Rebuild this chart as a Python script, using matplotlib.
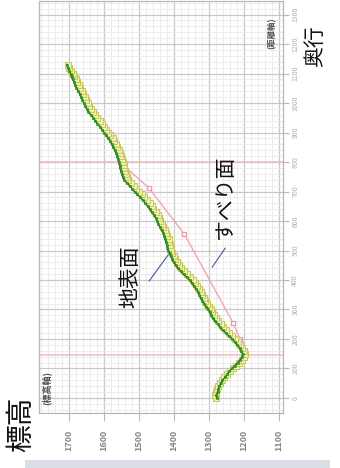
import matplotlib
matplotlib.use("Agg")
import matplotlib.pyplot as plt
from matplotlib.ticker import MultipleLocator
from matplotlib.patches import Rectangle

plt.rcParams['font.family'] = ['Noto Sans CJK JP', 'DejaVu Sans']

# Ground surface profile (current survey): distance along section (m), elevation (m)
ground_dist = [0, 10, 20, 30, 40, 50, 60, 70, 80, 90, 100, 110, 120, 130, 140, 150,
               160, 170, 180, 190, 200, 210, 220, 230, 240, 250, 260, 270, 280, 290,
               300, 310, 320, 330, 340, 350, 360, 370, 380, 390, 400, 410, 420, 430,
               440, 450, 460, 470, 480, 490, 500, 510, 520, 530, 540, 550, 560, 570,
               580, 590, 600, 610, 620, 630, 640, 650, 660, 670, 680, 690, 700, 710,
               720, 730, 740, 750, 760, 770, 780, 790, 800, 810, 820, 830, 840, 850,
               860, 870, 880, 890, 900, 910, 920, 930, 940, 950, 960, 970, 980, 990,
               1000, 1010, 1020, 1030, 1040, 1050, 1060, 1070, 1080, 1090, 1100,
               1110, 1120, 1130]
ground_elev = [1278, 1279, 1276, 1274, 1271, 1266, 1262, 1255, 1248, 1242, 1235, 1226,
               1218, 1211, 1206, 1204, 1208, 1213, 1219, 1226, 1234, 1243, 1252, 1261,
               1268, 1275, 1282, 1289, 1294, 1298, 1302, 1308, 1314, 1319, 1324, 1328,
               1332, 1337, 1343, 1349, 1356, 1364, 1373, 1381, 1389, 1396, 1401, 1406,
               1409, 1413, 1417, 1419, 1421, 1423, 1425, 1428, 1431, 1436, 1441, 1445,
               1449, 1453, 1458, 1464, 1470, 1476, 1482, 1489, 1497, 1505, 1513, 1520,
               1527, 1535, 1543, 1547, 1550, 1552, 1554, 1556, 1558, 1561, 1563, 1566,
               1570, 1574, 1578, 1583, 1588, 1594, 1600, 1606, 1612, 1619, 1625, 1631,
               1638, 1645, 1650, 1654, 1658, 1662, 1666, 1670, 1674, 1679, 1682, 1686,
               1689, 1693, 1696, 1699, 1703, 1706]

# Ground surface profile (earlier survey)
prev_elev = [1281, 1282, 1280, 1278, 1274, 1269, 1264, 1257, 1249, 1241, 1233, 1224,
             1215, 1207, 1200, 1197, 1199, 1205, 1211, 1218, 1226, 1234, 1243, 1252,
             1260, 1267, 1274, 1281, 1287, 1292, 1296, 1301, 1306, 1311, 1316, 1320,
             1324, 1329, 1334, 1340, 1347, 1355, 1364, 1372, 1380, 1387, 1393, 1398,
             1401, 1405, 1408, 1410, 1412, 1414, 1416, 1419, 1422, 1426, 1431, 1435,
             1439, 1443, 1447, 1453, 1459, 1464, 1470, 1477, 1485, 1493, 1501, 1508,
             1515, 1523, 1531, 1535, 1538, 1540, 1542, 1544, 1546, 1549, 1551, 1554,
             1558, 1562, 1566, 1571, 1576, 1582, 1588, 1594, 1600, 1607, 1613, 1619,
             1626, 1633, 1638, 1643, 1647, 1651, 1655, 1659, 1664, 1669, 1673, 1677,
             1681, 1686, 1690, 1694, 1699, 1704]

# Estimated slip surface
slip_dist = [146, 200, 254, 556, 712, 800]
slip_elev = [1200, 1212, 1231, 1371, 1472, 1556]

# Section boundaries of the landslide block
boundary_dist = [146, 800]

elev_ticks = [1700, 1600, 1500, 1400, 1300, 1200, 1100]
dist_ticks = [0, 100, 200, 300, 400, 500, 600, 700, 800, 900, 1000, 1100, 1200, 1300]

fig = plt.figure(figsize=(3.4, 4.68), dpi=100)
ax = fig.add_axes([39 / 340, (468 - 413) / 468, 244 / 340, 412 / 468])

ax.set_xlim(1786, 1089)
ax.set_ylim(-51, 1346)

ax.xaxis.set_minor_locator(MultipleLocator(20))
ax.yaxis.set_minor_locator(MultipleLocator(20))
ax.set_xticks(elev_ticks)
ax.set_yticks(dist_ticks)
ax.grid(which='major', color='#c8c8c8', lw=0.9)
ax.grid(which='minor', color='#e9e9e9', lw=0.6)
ax.set_axisbelow(True)

for s in ax.spines.values():
    s.set_color('#b8b8b8')
    s.set_linewidth(0.9)

ax.yaxis.tick_right()
ax.tick_params(axis='x', which='major', direction='out', length=6, color='#b8b8b8',
               labelsize=6.5, labelcolor='#858585', labelrotation=90, pad=6)
ax.tick_params(axis='y', which='major', direction='out', length=4, color='#b8b8b8',
               labelsize=5, labelcolor='#b0b0b0', labelrotation=90, pad=2)
ax.tick_params(which='minor', length=0)
for lbl in ax.get_yticklabels():
    lbl.set_va('center')
for lbl in ax.get_xticklabels():
    lbl.set_fontweight('bold')

for d in boundary_dist:
    ax.axhline(d, color='#f5b8bd', lw=1.1, zorder=2)

ax.plot(slip_elev, slip_dist, color='#f2a6ad', lw=1.0, marker='s', ms=3.5,
        mfc='white', mec='#ee9aa4', mew=0.9, zorder=3)

ax.plot(prev_elev, ground_dist, color='#d8d880', lw=1.0, marker='s', ms=3.8,
        mfc='#f4f4bc', mec='#c8c860', mew=0.8, zorder=4)
ax.plot(ground_elev, ground_dist, color='#24801a', lw=1.1, marker='s', ms=2.0,
        mfc='#40a02c', mec='#24801a', mew=0.4, zorder=5)

# Labels with leader lines
ax.plot([1471, 1417], [397, 485], color='#4a55a0', lw=0.8, zorder=6)
ax.plot([1291, 1254], [444, 508], color='#4a55a0', lw=0.8, zorder=6)
ax.text(1526, 410, '地表面', rotation=90, fontsize=15, ha='center', va='center',
        color='#111111', zorder=7)
ax.text(1254, 681, 'すべり面', rotation=90, fontsize=15, ha='center', va='center',
        color='#111111', zorder=7)

fig.text(47 / 340, 1 - 388 / 468, '(標高軸)', rotation=90, fontsize=6.5,
         ha='center', va='center', color='#505050', fontweight='bold')
fig.text(272 / 340, 1 - 33 / 468, '(距離軸)', rotation=90, fontsize=6,
         ha='center', va='center', color='#505050', fontweight='bold')

fig.text(21 / 340, 1 - 424 / 468, '標高', rotation=90, fontsize=20,
         ha='center', va='center', color='#111111')
fig.text(315 / 340, 1 - 46 / 468, '奥行', rotation=90, fontsize=15,
         ha='center', va='center', color='#111111')

fig.patches.append(Rectangle((25 / 340, 0), 305 / 340, 8 / 468, transform=fig.transFigure,
                             facecolor='#cdd4de', edgecolor='none', alpha=0.75))

fig.savefig('out.png', dpi=100)
